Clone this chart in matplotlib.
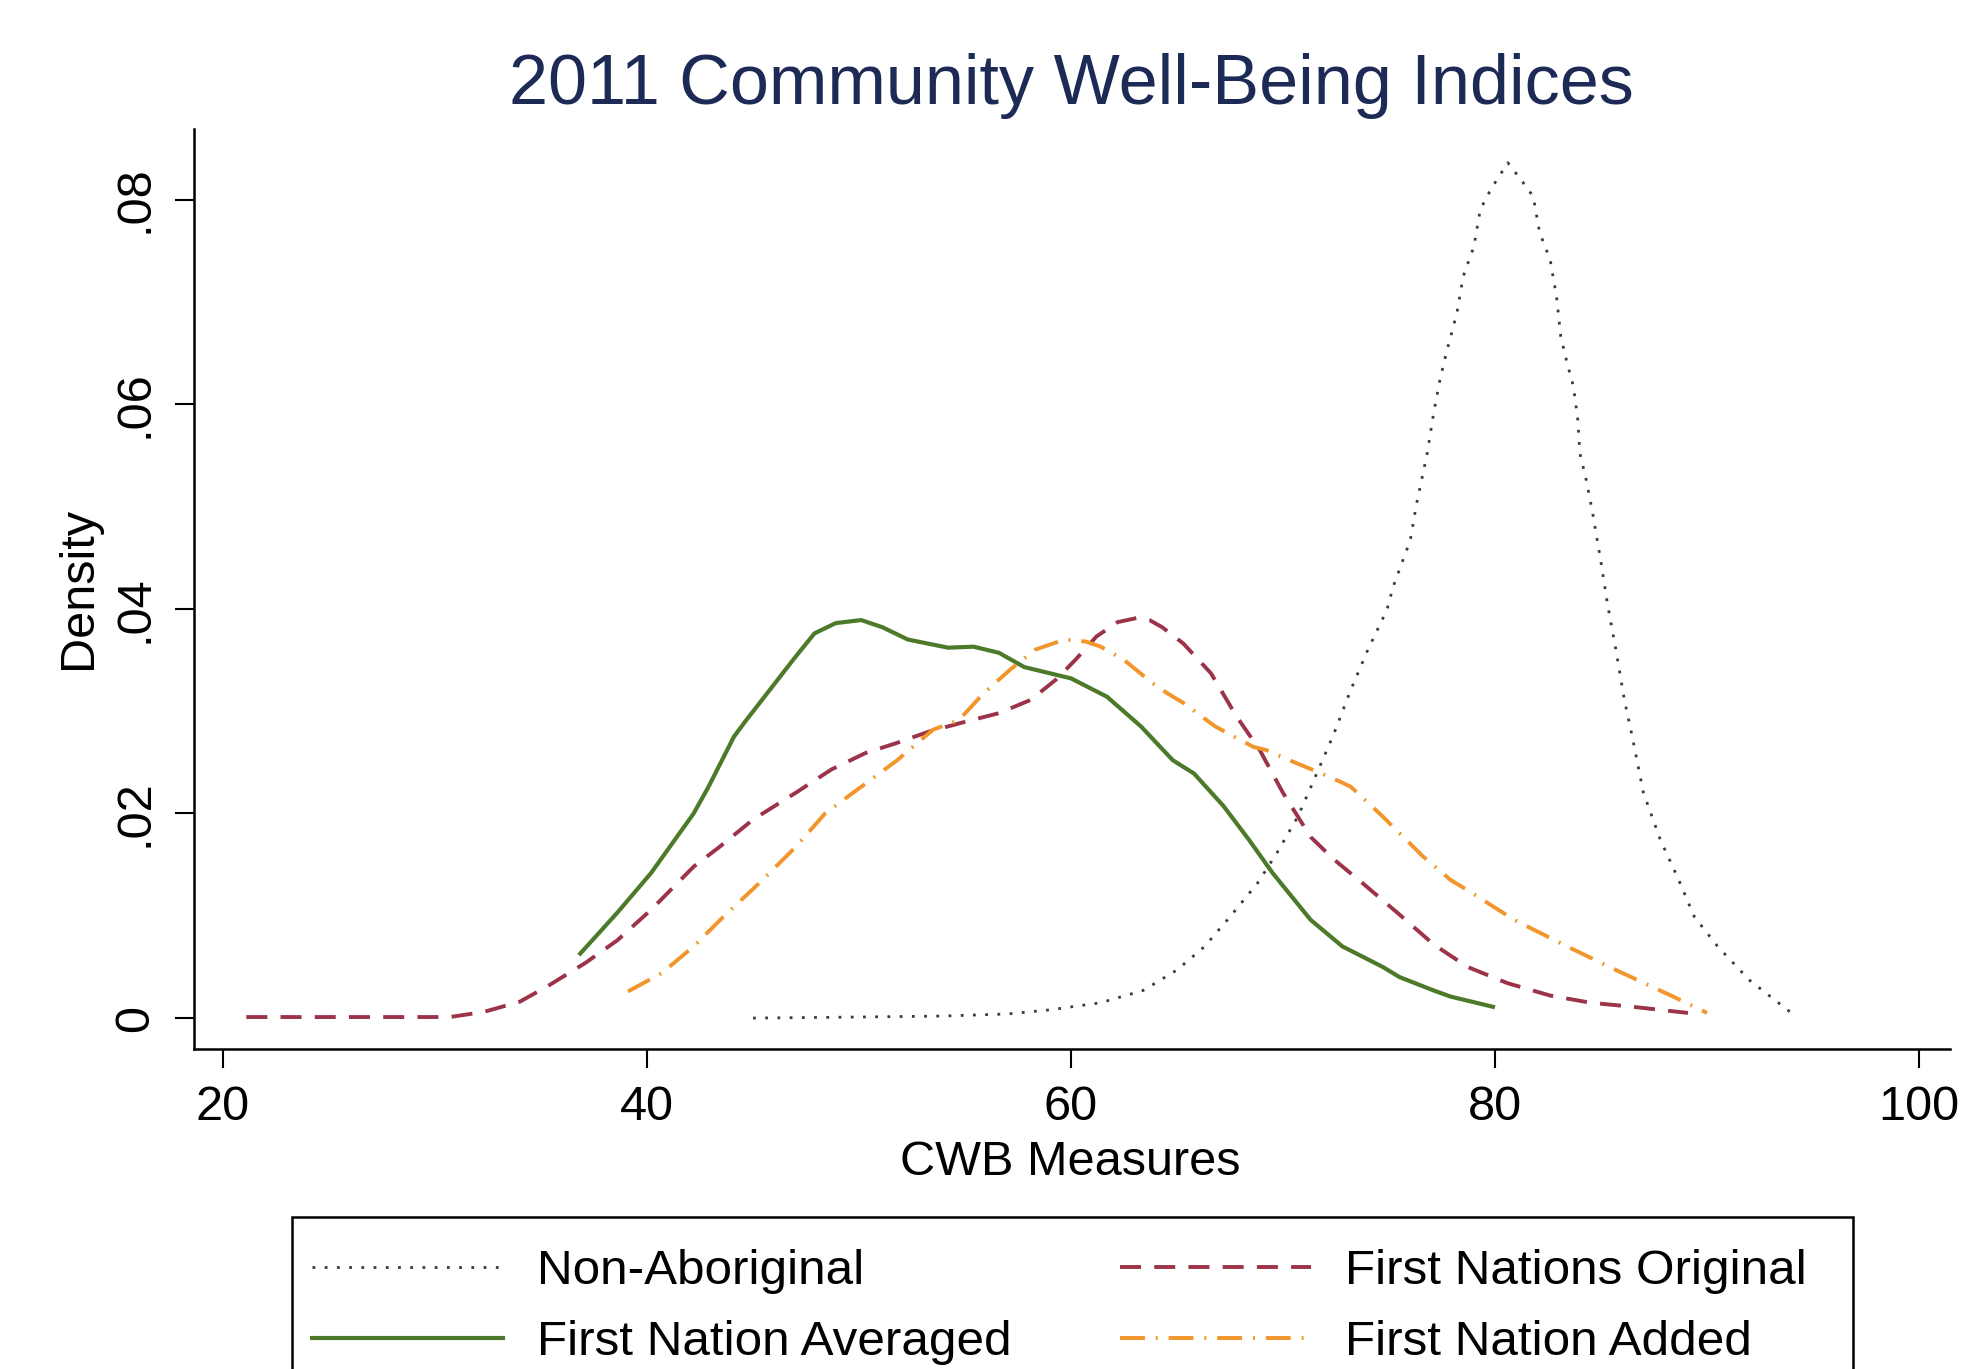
import numpy as np
import matplotlib.pyplot as plt
from matplotlib.patches import Rectangle
from matplotlib.ticker import FixedLocator, FuncFormatter

plt.rcParams['font.family'] = ['Liberation Sans', 'DejaVu Sans']

# density curves
non_ab_x = [45.0, 50.0, 54.0, 57.0, 59.0, 61.4, 63.4, 65.0, 66.3, 67.5, 68.8, 69.7, 70.7, 71.4,
            72.4, 73.2, 74.0, 74.9, 75.2, 76.0, 76.3, 76.8, 77.1, 77.4, 77.7, 78.2, 78.5, 79.0,
            79.3, 79.8, 80.6, 81.2, 81.8, 82.1, 82.6, 82.9, 83.1, 83.4, 83.7, 83.9, 84.0, 84.3,
            84.6, 85.0, 85.3, 85.7, 86.1, 86.5, 87.0, 87.8, 88.6, 89.4, 90.5, 92.0, 94.1]
non_ab_y = [0.0, 0.0001, 0.0002, 0.0004, 0.0008, 0.0015, 0.0027, 0.0047, 0.0070, 0.0099, 0.0132,
            0.0161, 0.0197, 0.0230, 0.0278, 0.0321, 0.0360, 0.0399, 0.0422, 0.0467, 0.0503, 0.0552,
            0.0591, 0.0624, 0.0650, 0.0689, 0.0725, 0.0754, 0.0790, 0.0810, 0.0836, 0.0820, 0.0803,
            0.0768, 0.0741, 0.0705, 0.0666, 0.0640, 0.0617, 0.0585, 0.0552, 0.0526, 0.0494, 0.0445,
            0.0405, 0.0360, 0.0311, 0.0272, 0.0220, 0.0174, 0.0138, 0.0099, 0.0070, 0.0037, 0.0003]

avg_x = [36.85, 38.6, 40.2, 42.2, 42.9, 44.1, 44.6, 45.8, 47.0, 47.9, 48.9, 50.1, 51.1, 52.3,
         54.2, 55.4, 56.6, 57.8, 59.0, 60.0, 61.7, 63.3, 64.8, 65.8, 67.2, 68.4, 69.5, 70.4,
         71.3, 72.8, 74.7, 75.5, 77.1, 77.9, 79.9]
avg_y = [0.0063, 0.0103, 0.0142, 0.0200, 0.0226, 0.0275, 0.0289, 0.0321, 0.0353, 0.0376, 0.0386,
         0.0389, 0.0382, 0.0370, 0.0362, 0.0363, 0.0357, 0.0343, 0.0337, 0.0332, 0.0314, 0.0285,
         0.0252, 0.0239, 0.0207, 0.0174, 0.0142, 0.0119, 0.0096, 0.0070, 0.0050, 0.0040, 0.0027,
         0.0021, 0.0011]

orig_x = [21.1, 26.0, 30.7, 32.3, 34.0, 35.3, 37.1, 38.6, 40.2, 42.2, 43.4, 45.0, 47.0, 48.7,
          50.3, 51.8, 53.3, 54.9, 56.6, 58.1, 59.3, 60.2, 61.2, 62.2, 63.1, 63.7, 64.3, 65.3,
          66.6, 67.8, 68.9, 70.0, 71.3, 72.4, 73.8, 75.5, 77.1, 78.7, 80.6, 82.6, 84.5, 86.5, 89.1]
orig_y = [0.0001, 0.0001, 0.0001, 0.0006, 0.0016, 0.0031, 0.0054, 0.0076, 0.0106, 0.0148, 0.0167,
          0.0194, 0.0220, 0.0243, 0.0259, 0.0269, 0.0280, 0.0289, 0.0298, 0.0311, 0.0331, 0.0350,
          0.0373, 0.0387, 0.0391, 0.0389, 0.0382, 0.0366, 0.0337, 0.0295, 0.0262, 0.0220, 0.0177,
          0.0155, 0.0131, 0.0101, 0.0072, 0.0050, 0.0034, 0.0022, 0.0015, 0.0011, 0.0005]

added_x = [39.1, 40.7, 42.2, 43.6, 45.3, 47.0, 48.4, 50.1, 51.8, 53.5, 54.7, 55.9, 57.1, 58.3,
           59.7, 60.7, 61.4, 62.5, 63.8, 64.5, 65.3, 66.8, 68.6, 69.2, 70.3, 71.7, 72.7, 73.2,
           74.7, 76.6, 77.9, 78.7, 80.9, 83.4, 85.7, 88.4, 90.0]
added_y = [0.0026, 0.0044, 0.0070, 0.0099, 0.0132, 0.0167, 0.0200, 0.0226, 0.0252, 0.0282, 0.0291,
           0.0318, 0.0340, 0.0360, 0.0370, 0.0368, 0.0363, 0.0350, 0.0328, 0.0318, 0.0308, 0.0285,
           0.0265, 0.0262, 0.0252, 0.0240, 0.0231, 0.0226, 0.0197, 0.0158, 0.0135, 0.0125, 0.0096,
           0.0070, 0.0047, 0.0021, 0.0005]

x_ticks = [20, 40, 60, 80, 100]
y_ticks = [0, 0.02, 0.04, 0.06, 0.08]

FS = 35

fig = plt.figure(figsize=(19.63, 13.69), dpi=100)
ax = fig.add_axes([0.0988, 0.2337, 0.8946, 0.6721])

l_non, = ax.plot(non_ab_x, non_ab_y, color='#3a3a3a', lw=2.0, dashes=(1.0, 3.4),
                 dash_capstyle='butt', label='Non-Aboriginal')
l_avg, = ax.plot(avg_x, avg_y, color='#4c7a2a', lw=3.0, solid_joinstyle='round',
                 label='First Nation Averaged')
l_orig, = ax.plot(orig_x, orig_y, color='#9c3349', lw=2.8, dashes=(5.4, 3.4),
                  label='First Nations Original')
l_add, = ax.plot(added_x, added_y, color='#f2952a', lw=2.8, dashes=(6.4, 2.8, 0.5, 2.8),
                 label='First Nation Added')

ax.set_xlim(18.63, 101.46)
ax.set_ylim(-0.00303, 0.0869)
ax.spines['top'].set_visible(False)
ax.spines['right'].set_visible(False)
for s in ('left', 'bottom'):
    ax.spines[s].set_linewidth(1.8)

ax.xaxis.set_major_locator(FixedLocator(x_ticks))
ax.yaxis.set_major_locator(FixedLocator(y_ticks))
ax.yaxis.set_major_formatter(FuncFormatter(lambda v, p: '0' if v == 0 else f'{v:.2f}'.lstrip('0')))
ax.tick_params(axis='both', direction='out', length=14, width=1.5, labelsize=FS, pad=12)
plt.setp(ax.get_yticklabels(), rotation=90, va='center')

ax.set_xlabel('CWB Measures', fontsize=FS, va='center')
ax.xaxis.set_label_coords(0.499, -0.1228)
ax.set_ylabel('Density', fontsize=FS, va='center')
ax.yaxis.set_label_coords(-0.066, 0.501)

fig.text(0.546, 0.9372, '2011 Community Well-Being Indices', fontsize=50.5,
         color='#1c2a55', ha='center', va='center')

# legend entries; the box is drawn separately so it spans the same width as the original
leg = fig.legend([l_non, l_avg, l_orig, l_add],
                 [l_non.get_label(), l_avg.get_label(), l_orig.get_label(), l_add.get_label()],
                 loc='upper left', bbox_to_anchor=(0.1427, 0.111),
                 ncol=2, fontsize=35.6, frameon=False, borderaxespad=0,
                 handlelength=3.86, handletextpad=0.68, labelspacing=0.53, borderpad=0.65,
                 columnspacing=2.2)
fig.add_artist(Rectangle((0.1488, -0.05), 0.7952, 0.161, transform=fig.transFigure,
                         facecolor='none', edgecolor='black', lw=1.8, clip_on=False))

fig.savefig('out.png', dpi=100)
